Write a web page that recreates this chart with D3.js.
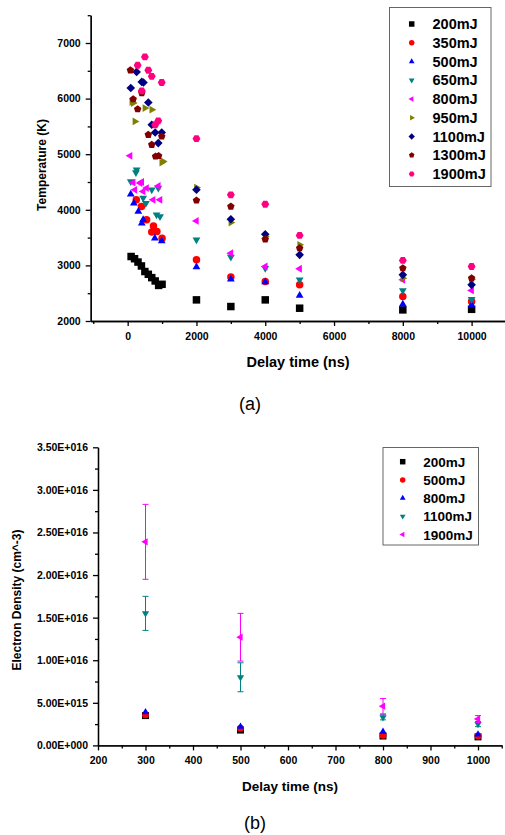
<!DOCTYPE html>
<html>
<head>
<meta charset="utf-8">
<script src="https://cdn.jsdelivr.net/npm/d3@7"></script>
<style>
  body { margin: 0; background: #fff; }
  svg { display: block; font-family: Arial, "Liberation Sans", sans-serif; }
  .axis path, .axis line { stroke: #000; stroke-width: 1.3; }
  .axis text { font-weight: bold; fill: #000; }
</style>
</head>
<body>
<div id="canvas"></div>
<script>
// ---- (a) temperature vs delay time ----
let tempNames = ['200mJ', '350mJ', '500mJ', '650mJ', '800mJ', '950mJ', '1100mJ', '1300mJ', '1900mJ']
let tempColors = ['#000000', '#ff0000', '#0000ff', '#008080', '#ff00ff', '#808000', '#000080', '#800000', '#ff0080']
let tempShapes = ['square', 'circle', 'up', 'down', 'left', 'right', 'diamond', 'pentagon', 'hexagon']

// delay (ns) and temperature (K) for each energy
let t200 = [100, 200, 300, 400, 500, 600, 700, 800, 900, 1000, 2000, 3000, 4000, 5000, 8000, 10000]
let T200 = [3160, 3120, 3060, 2990, 2890, 2840, 2780, 2720, 2640, 2660, 2380, 2260, 2380, 2230, 2200, 2210]
let t350 = [250, 400, 550, 700, 750, 850, 1000, 2000, 3000, 4000, 5000, 8000, 10000]
let T350 = [4180, 4060, 3820, 3600, 3710, 3610, 3490, 3100, 2790, 2710, 2650, 2440, 2350]
let t500 = [90, 180, 310, 410, 450, 790, 990, 2000, 3000, 4000, 5000, 8000, 10000]
let T500 = [4280, 4120, 3970, 3760, 3820, 3490, 3440, 2970, 2750, 2700, 2460, 2300, 2290]
let t650 = [90, 240, 260, 450, 530, 700, 840, 890, 940, 2000, 3000, 4000, 5000, 8000, 10000]
let T650 = [4510, 4670, 4720, 4210, 4120, 4360, 3910, 4390, 3880, 3460, 3150, 2950, 2740, 2550, 2390]
let t800 = [70, 160, 210, 360, 410, 450, 550, 740, 890, 940, 2000, 3000, 4000, 5000, 8000, 10000]
let T800 = [4970, 4490, 4360, 4480, 4500, 4330, 4390, 4180, 4430, 4180, 3800, 3220, 2980, 2940, 2740, 2550]
let t950 = [120, 160, 210, 500, 700, 990, 1030, 2000, 3000, 4000, 5000, 8000, 10000]
let T950 = [5940, 5920, 5590, 5830, 5800, 4850, 4870, 4400, 3770, 3520, 3370, 2770, 2750]
let t1100 = [90, 260, 410, 460, 600, 700, 800, 890, 990, 2000, 3000, 4000, 5000, 8000, 10000]
let T1100 = [6190, 6480, 6300, 6290, 5930, 5530, 5390, 5200, 5390, 4360, 3830, 3560, 3190, 2830, 2650]
let t1300 = [80, 160, 290, 410, 600, 700, 810, 900, 990, 2000, 3000, 4000, 5000, 8000, 10000]
let T1300 = [6510, 5990, 5810, 6100, 5350, 5170, 4960, 4970, 5320, 4170, 4060, 3470, 3310, 2950, 2770]
let t1900 = [290, 410, 500, 600, 700, 800, 890, 990, 2000, 3000, 4000, 5000, 8000, 10000]
let T1900 = [6600, 6140, 6750, 6510, 6400, 5530, 5600, 6290, 5280, 4270, 4100, 3540, 3090, 2980]

let tempX = [t200, t350, t500, t650, t800, t950, t1100, t1300, t1900]
let tempY = [T200, T350, T500, T650, T800, T950, T1100, T1300, T1900]

let topXTicks = [0, 2000, 4000, 6000, 8000, 10000]
let topYTicks = [2000, 3000, 4000, 5000, 6000, 7000]

// ---- (b) electron density vs delay time ----
let densNames = ['200mJ', '500mJ', '800mJ', '1100mJ', '1900mJ']
let densColors = ['#000000', '#ff0000', '#0000ff', '#008080', '#ff00ff']
let densShapes = ['square', 'circle', 'up', 'down', 'left']
let densDelay = [300, 500, 800, 1000]
let n200 = [3.5e15, 1.8e15, 1.1e15, 1.0e15]
let n500 = [3.6e15, 2.0e15, 1.2e15, 1.1e15]
let n800 = [3.9e15, 2.2e15, 1.6e15, 1.3e15]
let n1100 = [1.55e16, 8.0e15, 3.3e15, 2.5e15]
let n1900 = [2.39e16, 1.27e16, 4.6e15, 3.1e15]
let e1100 = [2.0e15, 1.7e15, 0.3e15, 0.3e15]
let e1900 = [4.4e15, 2.8e15, 0.9e15, 0.4e15]
let densY = [n200, n500, n800, n1100, n1900]
let densErr = [null, null, null, e1100, e1900]

let botXTicks = [200, 300, 400, 500, 600, 700, 800, 900, 1000]
let botYTicks = [0, 5e15, 1e16, 1.5e16, 2e16, 2.5e16, 3e16, 3.5e16]
let botYLabels = ['0.00E+000', '5.00E+015', '1.00E+016', '1.50E+016', '2.00E+016', '2.50E+016', '3.00E+016', '3.50E+016']

// marker path builder (centered at 0,0)
function poly(n, r, rot) {
    let pts = []
    for (let k = 0; k < n; k++) {
        let a = rot + k * 2 * Math.PI / n
        pts.push([r * Math.cos(a), r * Math.sin(a)])
    }
    return 'M' + pts.map(p => p[0].toFixed(2) + ',' + p[1].toFixed(2)).join('L') + 'Z'
}
function marker(shape, s) {
    let r = s / 2
    if (shape == 'square') return `M${-r},${-r}H${r}V${r}H${-r}Z`
    if (shape == 'circle') return d3.symbol(d3.symbolCircle, Math.PI * r * r)()
    if (shape == 'up') return poly(3, r * 1.2, -Math.PI / 2)
    if (shape == 'down') return poly(3, r * 1.2, Math.PI / 2)
    if (shape == 'left') return poly(3, r * 1.2, Math.PI)
    if (shape == 'right') return poly(3, r * 1.2, 0)
    if (shape == 'diamond') return poly(4, r * 1.15, 0)
    if (shape == 'pentagon') return poly(5, r * 1.05, -Math.PI / 2)
    return poly(6, r * 1.05, 0)
}

let svg = d3.select('#canvas').append('svg')
    .attr('width', 505).attr('height', 835)

// ===== chart (a) =====
let xScale = d3.scaleLinear().domain([-1075, 11000]).range([90.7, 506])
let yScale = d3.scaleLinear().domain([2000, 7500]).range([321, 15.2])

svg.append('g').attr('class', 'axis')
    .attr('transform', 'translate(0,321)')
    .call(d3.axisBottom(xScale).tickValues(d3.range(-1000, 11001, 2000)).tickFormat('').tickSizeInner(3).tickSizeOuter(0))
svg.append('g').attr('class', 'axis')
    .attr('transform', 'translate(0,321)')
    .call(d3.axisBottom(xScale).tickValues(topXTicks).tickFormat(d => d).tickSizeInner(5).tickSizeOuter(0).tickPadding(7))
    .selectAll('text').style('font-size', '10.5px')
svg.append('g').attr('class', 'axis')
    .attr('transform', 'translate(90.7,0)')
    .call(d3.axisLeft(yScale).tickValues(d3.range(2500, 7501, 1000)).tickFormat('').tickSizeInner(3).tickSizeOuter(0))
svg.append('g').attr('class', 'axis')
    .attr('transform', 'translate(90.7,0)')
    .call(d3.axisLeft(yScale).tickValues(topYTicks).tickFormat(d => d).tickSizeInner(5).tickSizeOuter(0).tickPadding(5))
    .selectAll('text').style('font-size', '10.5px')

svg.append('text').attr('x', 298).attr('y', 367)
    .attr('text-anchor', 'middle').style('font-size', '14.5px').style('font-weight', 'bold')
    .text('Delay time (ns)')
svg.append('text').attr('transform', 'translate(46,165) rotate(-90)')
    .attr('text-anchor', 'middle').style('font-size', '12px').style('font-weight', 'bold')
    .text('Temperature (K)')

tempNames.forEach((name, i) => {
    let pts = tempX[i].map((t, j) => [t, tempY[i][j]])
    svg.append('g').selectAll('path')
        .data(pts)
        .enter()
        .append('path')
        .attr('d', marker(tempShapes[i], 7.5))
        .attr('transform', d => `translate(${xScale(d[0])},${yScale(d[1])})`)
        .style('fill', tempColors[i])
})

// legend (a)
svg.append('rect').attr('x', 389.5).attr('y', 7.5).attr('width', 101.5).attr('height', 179)
    .style('fill', '#fff').style('stroke', '#666').style('stroke-width', 1)
tempNames.forEach((name, i) => {
    let cy = 24 + i * 18.75
    svg.append('path').attr('d', marker(tempShapes[i], 5.5))
        .attr('transform', `translate(411.7,${cy})`).style('fill', tempColors[i])
    svg.append('text').attr('x', 432.5).attr('y', cy + 5)
        .style('font-size', '14.5px').style('font-weight', 'bold').text(name)
})

svg.append('text').attr('x', 250).attr('y', 410).attr('text-anchor', 'middle')
    .style('font-size', '18px').text('(a)')

// ===== chart (b) =====
let xScale2 = d3.scaleLinear().domain([200, 1050]).range([98, 501.75])
let yScale2 = d3.scaleLinear().domain([0, 3.5e16]).range([745.4, 447.3])

svg.append('g').attr('class', 'axis')
    .attr('transform', 'translate(0,745.4)')
    .call(d3.axisBottom(xScale2).tickValues(d3.range(250, 1051, 100)).tickFormat('').tickSizeInner(3).tickSizeOuter(0))
svg.append('g').attr('class', 'axis')
    .attr('transform', 'translate(0,745.4)')
    .call(d3.axisBottom(xScale2).tickValues(botXTicks).tickFormat(d => d).tickSizeInner(5).tickSizeOuter(0).tickPadding(6))
    .selectAll('text').style('font-size', '10.5px')
svg.append('g').attr('class', 'axis')
    .attr('transform', 'translate(98,0)')
    .call(d3.axisLeft(yScale2).tickValues(d3.range(2.5e15, 3.5e16, 5e15)).tickFormat('').tickSizeInner(3).tickSizeOuter(0))
svg.append('g').attr('class', 'axis')
    .attr('transform', 'translate(98,0)')
    .call(d3.axisLeft(yScale2).tickValues(botYTicks).tickFormat((d, i) => botYLabels[i]).tickSizeInner(5).tickSizeOuter(0).tickPadding(5))
    .selectAll('text').style('font-size', '10.5px')

svg.append('text').attr('x', 290).attr('y', 791)
    .attr('text-anchor', 'middle').style('font-size', '13.5px').style('font-weight', 'bold')
    .text('Delay time (ns)')
svg.append('text').attr('transform', 'translate(21,600) rotate(-90)')
    .attr('text-anchor', 'middle').style('font-size', '12px').style('font-weight', 'bold')
    .text('Electron Density (cm^-3)')

densNames.forEach((name, i) => {
    let pts = densDelay.map((t, j) => [t, densY[i][j], densErr[i] ? densErr[i][j] : 0])
    let g = svg.append('g')
    if (densErr[i]) {
        let eb = g.selectAll('g.err').data(pts).enter().append('g').attr('class', 'err')
            .style('stroke', densColors[i]).style('stroke-width', 1)
        eb.append('line')
            .attr('x1', d => xScale2(d[0])).attr('x2', d => xScale2(d[0]))
            .attr('y1', d => yScale2(d[1] + d[2])).attr('y2', d => yScale2(d[1] - d[2]))
        eb.append('line')
            .attr('x1', d => xScale2(d[0]) - 3).attr('x2', d => xScale2(d[0]) + 3)
            .attr('y1', d => yScale2(d[1] + d[2])).attr('y2', d => yScale2(d[1] + d[2]))
        eb.append('line')
            .attr('x1', d => xScale2(d[0]) - 3).attr('x2', d => xScale2(d[0]) + 3)
            .attr('y1', d => yScale2(d[1] - d[2])).attr('y2', d => yScale2(d[1] - d[2]))
    }
    g.selectAll('path')
        .data(pts)
        .enter()
        .append('path')
        .attr('d', marker(densShapes[i], 7))
        .attr('transform', d => `translate(${xScale2(d[0])},${yScale2(d[1])})`)
        .style('fill', densColors[i])
})

// legend (b)
svg.append('rect').attr('x', 383).attr('y', 447.5).attr('width', 95.5).attr('height', 97.5)
    .style('fill', '#fff').style('stroke', '#666').style('stroke-width', 1)
densNames.forEach((name, i) => {
    let cy = 461.7 + i * 18.2
    svg.append('path').attr('d', marker(densShapes[i], 5.5))
        .attr('transform', `translate(402.7,${cy})`).style('fill', densColors[i])
    svg.append('text').attr('x', 423.3).attr('y', cy + 5)
        .style('font-size', '13.5px').style('font-weight', 'bold').text(name)
})

svg.append('text').attr('x', 255).attr('y', 829).attr('text-anchor', 'middle')
    .style('font-size', '18px').text('(b)')
</script>
</body>
</html>
